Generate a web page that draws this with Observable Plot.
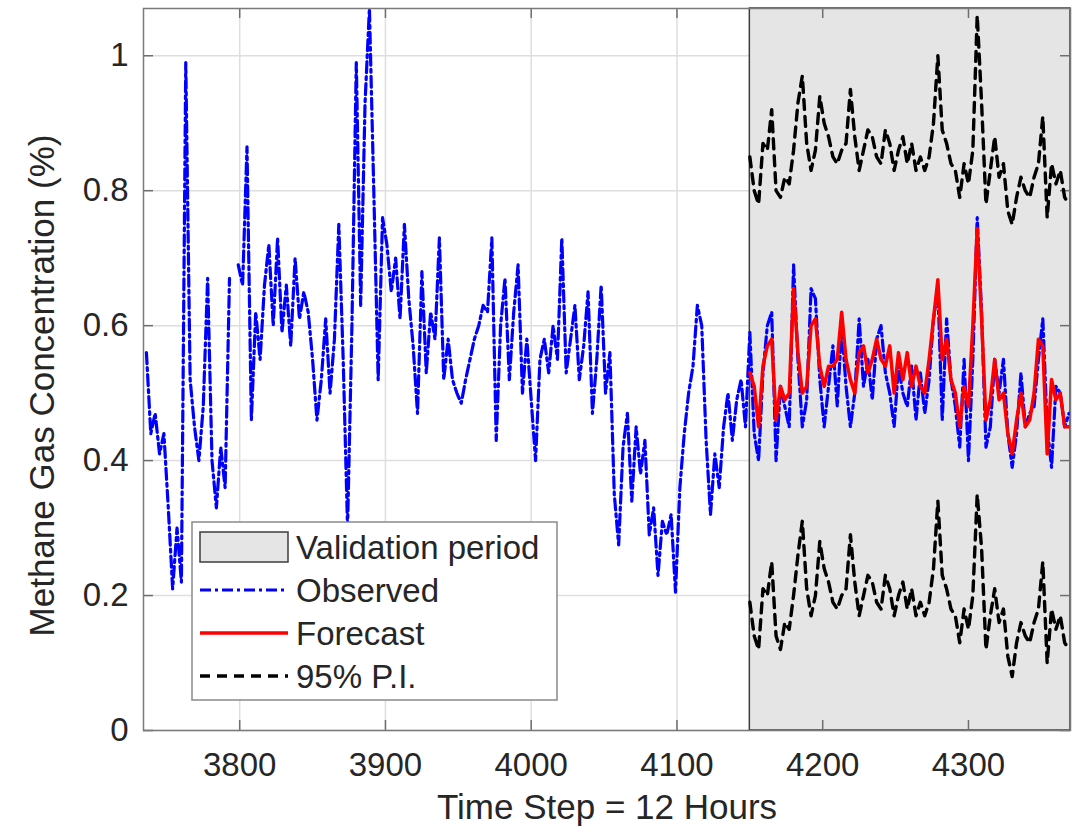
<!DOCTYPE html>
<html>
<head>
<meta charset="utf-8">
<script src="https://cdn.jsdelivr.net/npm/d3@7"></script>
<script src="https://cdn.jsdelivr.net/npm/@observablehq/plot@0.6"></script>
<style>
  html, body { margin: 0; padding: 0; background: #fff; }
  #chart { position: relative; width: 1073px; height: 840px; }
</style>
</head>
<body>
<div id="chart"></div>
<script>
// ---------------- DATA ----------------
const xTicks = [3800, 3900, 4000, 4100, 4200, 4300];
const xTickLabels = ["3800", "3900", "4000", "4100", "4200", "4300"];
const yTicks = [0, 0.2, 0.4, 0.6, 0.8, 1];
const yTickLabels = ["0", "0.2", "0.4", "0.6", "0.8", "1"];
const xDomain = [3734, 4370];
const yDomain = [0, 1.07];

const xLabel = "Time Step = 12 Hours";
const yLabel = "Methane Gas Concentration (%)";
const legendItems = ["Validation period", "Observed", "Forecast", "95% P.I."];

const validationStart = 4150;
const validationEnd = 4370;

// observed series, one value every 3 time steps starting at step 3736
const obsStart = 3736;
const stepSize = 3;
const observed = [
  0.56, 0.44, 0.47, 0.41, 0.44, 0.33, 0.21, 0.30, 0.22, 0.99,
  0.52, 0.45, 0.40, 0.48, 0.67, 0.40, 0.33, 0.42, 0.36, 0.67,
  null, 0.69, 0.66, 0.865, 0.46, 0.62, 0.55, 0.66, 0.72, 0.60,
  0.73, 0.59, 0.66, 0.57, 0.70, 0.61, 0.65, 0.62, 0.55, 0.46,
  0.52, 0.61, 0.50, 0.58, 0.75, 0.55, 0.30, 0.60, 0.99, 0.63,
  0.93, 1.07, 0.80, 0.52, 0.76, 0.72, 0.65, 0.70, 0.61, 0.75,
  0.64, 0.57, 0.47, 0.68, 0.53, 0.62, 0.58, 0.73, 0.52, 0.58,
  0.52, 0.50, 0.485, 0.52, 0.55, 0.58, 0.60, 0.63, 0.62, 0.73,
  0.43, 0.60, 0.67, 0.52, 0.62, 0.69, 0.50, 0.58, 0.49, 0.40,
  0.55, 0.58, 0.53, 0.60, 0.55, 0.73, 0.53, 0.58, 0.63, 0.52,
  0.57, 0.65, 0.47, 0.55, 0.66, 0.50, 0.56, 0.35, 0.275, 0.42,
  0.47, 0.34, 0.45, 0.38, 0.43, 0.29, 0.33, 0.23, 0.31, 0.29,
  0.32, 0.205, 0.36, 0.44, 0.50, 0.54, 0.63, 0.60, 0.43, 0.32,
  0.41, 0.36, 0.45, 0.50, 0.43, 0.49, 0.52, 0.45, 0.59,
  // validation period
  0.44, 0.40, 0.53, 0.60, 0.62, 0.40, 0.51, 0.48, 0.45, 0.69,
  0.55, 0.45, 0.49, 0.655, 0.64, 0.52, 0.45, 0.51, 0.57, 0.48,
  0.60, 0.51, 0.45, 0.50, 0.61, 0.51, 0.55, 0.49, 0.58, 0.60,
  0.53, 0.50, 0.45, 0.54, 0.50, 0.48, 0.54, 0.46, 0.53, 0.47,
  0.52, 0.61, 0.655, 0.46, 0.61, 0.52, 0.48, 0.42, 0.55, 0.40,
  0.55, 0.76, 0.62, 0.42, 0.45, 0.55, 0.50, 0.55, 0.44, 0.39,
  0.44, 0.53, 0.45, 0.47, 0.48, 0.55, 0.61, 0.45, 0.39, 0.51,
  0.50, 0.45, 0.47
];

// forecast and 95% prediction interval, every 3 steps from step 4150
const fcStart = 4150;
const forecast = [
  0.53, 0.51, 0.45, 0.54, 0.57, 0.58, 0.46, 0.51, 0.49, 0.50,
  0.655, 0.56, 0.50, 0.51, 0.60, 0.61, 0.54, 0.51, 0.54, 0.54,
  0.55, 0.62, 0.55, 0.52, 0.50, 0.56, 0.57, 0.53, 0.55, 0.58,
  0.55, 0.54, 0.57, 0.50, 0.56, 0.52, 0.56, 0.51, 0.54, 0.51,
  0.50, 0.55, 0.61, 0.668, 0.55, 0.58, 0.52, 0.50, 0.45, 0.51,
  0.48, 0.60, 0.744, 0.61, 0.46, 0.49, 0.55, 0.49, 0.50, 0.44,
  0.41, 0.46, 0.50, 0.45, 0.46, 0.50, 0.58, 0.57, 0.41, 0.52,
  0.49, 0.50, 0.45, 0.45
];
const upperPI = [
  0.85, 0.80, 0.78, 0.87, 0.86, 0.92, 0.80, 0.79, 0.82, 0.81,
  0.86, 0.93, 0.97, 0.87, 0.83, 0.86, 0.94, 0.90, 0.88, 0.85,
  0.84, 0.86, 0.87, 0.95, 0.88, 0.83, 0.86, 0.89, 0.88, 0.85,
  0.84, 0.89, 0.87, 0.83, 0.86, 0.88, 0.84, 0.87, 0.83, 0.85,
  0.83, 0.85, 0.90, 1.00, 0.89, 0.87, 0.84, 0.83, 0.79, 0.84,
  0.81, 0.86, 1.06, 0.93, 0.78, 0.83, 0.88, 0.82, 0.84, 0.77,
  0.75, 0.79, 0.82, 0.80, 0.79, 0.82, 0.84, 0.91, 0.76, 0.84,
  0.81, 0.83, 0.79, 0.78
];
const lowerPI = [
  0.19, 0.14, 0.12, 0.21, 0.20, 0.25, 0.14, 0.12, 0.16, 0.15,
  0.20, 0.26, 0.31, 0.21, 0.17, 0.20, 0.28, 0.24, 0.22, 0.19,
  0.18, 0.20, 0.21, 0.29, 0.22, 0.17, 0.20, 0.23, 0.22, 0.19,
  0.18, 0.23, 0.21, 0.17, 0.20, 0.22, 0.18, 0.21, 0.17, 0.19,
  0.17, 0.19, 0.24, 0.34, 0.23, 0.21, 0.18, 0.17, 0.13, 0.18,
  0.15, 0.20, 0.35, 0.27, 0.12, 0.17, 0.21, 0.16, 0.18, 0.11,
  0.08, 0.13, 0.16, 0.14, 0.13, 0.16, 0.18, 0.25, 0.10, 0.18,
  0.15, 0.17, 0.13, 0.12
];

// ---------------- LAYOUT / STYLE ----------------
const W = 1073, H = 840;
const mL = 143, mR = 3, mT = 8, mB = 110;
const plotW = W - mL - mR, plotH = H - mT - mB;
const font = "'Liberation Sans', Arial, Helvetica, sans-serif";
const textColor = "#262626";
const tickColor = "#6e6e6e";
const blue = "#0000ff", red = "#ff0000", black = "#000000";
const obsDash = "11,4,3,4";
const piDash = "10,7";

const obsRows = observed.map((v, i) => ({t: obsStart + i * stepSize, v}));
const fcRows = forecast.map((v, i) => ({t: fcStart + i * stepSize, v}));
const upRows = upperPI.map((v, i) => ({t: fcStart + i * stepSize, v}));
const loRows = lowerPI.map((v, i) => ({t: fcStart + i * stepSize, v}));

const chart = Plot.plot({
  width: W, height: H,
  marginLeft: mL, marginRight: mR, marginTop: mT, marginBottom: mB,
  style: {fontFamily: font, fontSize: "33px", color: textColor, background: "#ffffff", overflow: "visible"},
  x: {domain: xDomain, axis: null},
  y: {domain: yDomain, axis: null},
  marks: [
    Plot.gridX(xTicks, {stroke: "#dedede", strokeOpacity: 1, strokeWidth: 1.5}),
    Plot.gridY(yTicks, {stroke: "#dedede", strokeOpacity: 1, strokeWidth: 1.5}),
    Plot.rect([{a: validationStart, b: validationEnd}], {x1: "a", x2: "b", fill: "#e5e5e5", stroke: "#3c3c3c", strokeWidth: 1.5}),
    // inner tick marks (MATLAB style)
    Plot.ruleX(xTicks, {insetTop: plotH - 10, stroke: tickColor, strokeWidth: 1.5}),
    Plot.ruleX(xTicks, {insetBottom: plotH - 10, stroke: tickColor, strokeWidth: 1.5}),
    Plot.ruleY(yTicks, {insetRight: plotW - 10, stroke: tickColor, strokeWidth: 1.5}),
    Plot.ruleY(yTicks, {insetLeft: plotW - 10, stroke: tickColor, strokeWidth: 1.5}),
    // series
    Plot.line(obsRows, {x: "t", y: "v", stroke: blue, strokeWidth: 3.2, strokeDasharray: obsDash}),
    Plot.line(upRows, {x: "t", y: "v", stroke: black, strokeWidth: 3.4, strokeDasharray: piDash}),
    Plot.line(loRows, {x: "t", y: "v", stroke: black, strokeWidth: 3.4, strokeDasharray: piDash}),
    Plot.line(fcRows, {x: "t", y: "v", stroke: red, strokeWidth: 3.5}),
    Plot.frame({stroke: "#7a7a7a", strokeWidth: 1.5}),
    // axes
    Plot.axisX(xTicks, {anchor: "bottom", tickSize: 0, tickPadding: 22, fontSize: 33, fill: textColor,
      tickFormat: d => xTickLabels[xTicks.indexOf(d)], label: null}),
    Plot.axisY(yTicks, {anchor: "left", tickSize: 0, tickPadding: 15, fontSize: 33, fill: textColor,
      tickFormat: d => yTickLabels[yTicks.indexOf(d)], label: null}),
    Plot.text([xLabel], {frameAnchor: "bottom", dy: 88, fontSize: 35, fill: textColor, textAnchor: "middle"}),
    Plot.text([yLabel], {frameAnchor: "left", dx: -101, dy: 16, rotate: -90, fontSize: 35, fill: textColor, textAnchor: "middle"})
  ]
});

document.getElementById("chart").appendChild(chart);

// ---------------- LEGEND (inside the axes, lower left) ----------------
const svg = d3.select(chart);
const lg = svg.append("g").attr("font-family", font).attr("font-size", 33)
  .attr("fill", textColor).attr("text-anchor", "start");
lg.append("rect").attr("x", 192).attr("y", 522).attr("width", 365).attr("height", 178)
  .attr("fill", "#ffffff").attr("stroke", "#8a8a8a").attr("stroke-width", 1.5);
const rowY = [547, 590, 633, 676];
lg.append("rect").attr("x", 200).attr("y", rowY[0] - 15).attr("width", 88).attr("height", 30)
  .attr("fill", "#e5e5e5").attr("stroke", "#3c3c3c").attr("stroke-width", 1.5);
lg.append("line").attr("x1", 200).attr("x2", 288).attr("y1", rowY[1]).attr("y2", rowY[1])
  .attr("stroke", blue).attr("stroke-width", 3.2).attr("stroke-dasharray", obsDash);
lg.append("line").attr("x1", 200).attr("x2", 288).attr("y1", rowY[2]).attr("y2", rowY[2])
  .attr("stroke", red).attr("stroke-width", 3.5);
lg.append("line").attr("x1", 200).attr("x2", 288).attr("y1", rowY[3]).attr("y2", rowY[3])
  .attr("stroke", black).attr("stroke-width", 3.4).attr("stroke-dasharray", piDash);
legendItems.forEach((label, i) => {
  lg.append("text").attr("x", 296).attr("y", rowY[i]).attr("dy", "0.35em")
    .attr("text-anchor", "start").text(label);
});
</script>
</body>
</html>
